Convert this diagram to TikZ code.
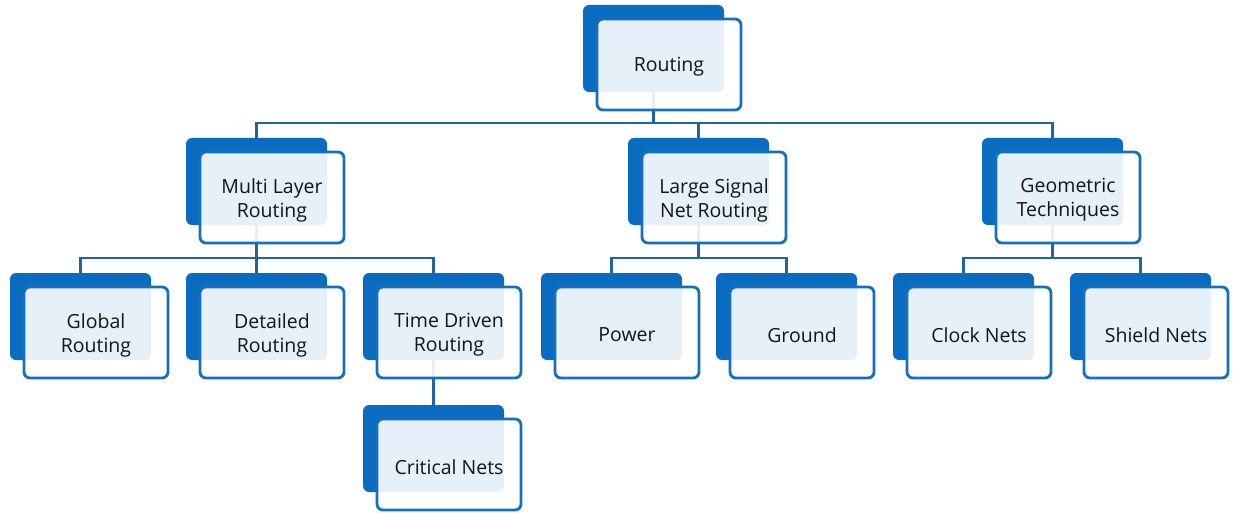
\documentclass[tikz,border=0pt]{standalone}
\usepackage{fontspec}
\setmainfont{Open Sans}
\definecolor{cardblue}{HTML}{0A6CC0}
\definecolor{cardedge}{HTML}{1470BF}
\definecolor{wire}{HTML}{1E64A8}
\definecolor{ink}{HTML}{151515}

\tikzset{
  backcard/.style={fill=cardblue, rounded corners=6pt, minimum width=141pt,
    minimum height=87pt, inner sep=0pt, outer sep=0pt, anchor=north west},
  frontcard/.style={draw=cardedge, line width=2.8pt, fill=white, fill opacity=0.9,
    rounded corners=6pt, minimum width=144pt, minimum height=91pt,
    inner sep=0pt, outer sep=0pt, anchor=north west},
  cardtext/.style={text=ink, align=center, font=\fontsize{19.5}{24}\selectfont,
    inner sep=0pt},
  wireline/.style={draw=wire, line width=2.8pt}
}

% \card{id}{left}{top}{text}: stacked card, back panel at (left, top) in px
\newcommand{\card}[4]{%
  \node[backcard] (#1-b) at (#2pt,-#3pt) {};
  \node[frontcard] (#1) at ([shift={(14pt,-14pt)}]#1-b.north west) {};
  \node[cardtext] (#1-t) at ([yshift=-2.5pt]#1.center) {#4};
}

\begin{document}
\begin{tikzpicture}[x=1pt,y=1pt]
\useasboundingbox (0,0) rectangle (1233,-513);

% bus levels
\coordinate (bus0) at (0,-123);
\coordinate (bus1) at (0,-258);

% back-panel outlines first, so the wires can be routed between them
\begin{scope}
  \node[backcard, fill=none] (rt-b) at (583pt,-5pt) {};
  \node[backcard, fill=none] (ml-b) at (186pt,-138pt) {};
  \node[backcard, fill=none] (ls-b) at (628pt,-138pt) {};
  \node[backcard, fill=none] (gt-b) at (982pt,-138pt) {};
  \node[backcard, fill=none] (gr-b) at (10pt,-273pt) {};
  \node[backcard, fill=none] (dr-b) at (186pt,-273pt) {};
  \node[backcard, fill=none] (td-b) at (363pt,-273pt) {};
  \node[backcard, fill=none] (pw-b) at (541pt,-273pt) {};
  \node[backcard, fill=none] (gd-b) at (716pt,-273pt) {};
  \node[backcard, fill=none] (ck-b) at (893pt,-273pt) {};
  \node[backcard, fill=none] (sh-b) at (1070pt,-273pt) {};
  \node[backcard, fill=none] (cn-b) at (363pt,-405pt) {};
\end{scope}

% connectors
\draw[wireline] (rt-b.center) -- (rt-b.center |- bus0);
\draw[wireline] (ml-b.north) |- (gt-b.north |- bus0) -- (gt-b.north);
\draw[wireline] (ls-b.north) -- (ls-b.north |- bus0);

\draw[wireline] (ml-b.center) -- (ml-b.center |- bus1);
\draw[wireline] (gr-b.north) |- (td-b.north |- bus1) -- (td-b.north);
\draw[wireline] (dr-b.north) -- (dr-b.north |- bus1);

\draw[wireline] (ls-b.center) -- (ls-b.center |- bus1);
\draw[wireline] (pw-b.north) |- (gd-b.north |- bus1) -- (gd-b.north);

\draw[wireline] (gt-b.center) -- (gt-b.center |- bus1);
\draw[wireline] (ck-b.north) |- (sh-b.north |- bus1) -- (sh-b.north);

\draw[wireline] (td-b.center) -- (cn-b.north);

% cards
\card{rt}{583}{5}{Routing}
\card{ml}{186}{138}{Multi Layer\\Routing}
\card{ls}{628}{138}{Large Signal\\Net Routing}
\card{gt}{982}{138}{Geometric\\Techniques}
\card{gr}{10}{273}{Global\\Routing}
\card{dr}{186}{273}{Detailed\\Routing}
\card{td}{363}{273}{Time Driven\\Routing}
\card{pw}{541}{273}{Power}
\card{gd}{716}{273}{Ground}
\card{ck}{893}{273}{Clock Nets}
\card{sh}{1070}{273}{Shield Nets}
\card{cn}{363}{405}{Critical Nets}

\end{tikzpicture}
\end{document}
